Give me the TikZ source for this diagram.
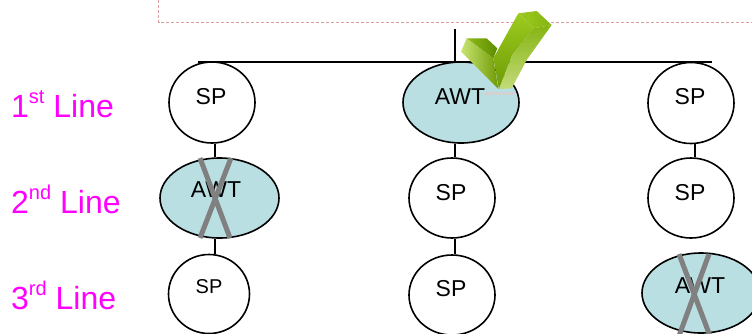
\documentclass[tikz,border=0pt]{standalone}
\usepackage{fontspec}
\setmainfont{Liberation Sans}
\usetikzlibrary{shapes.geometric}
\definecolor{awtfill}{HTML}{B9DFE3}
\definecolor{linemag}{HTML}{FF00FF}
\definecolor{crossgray}{HTML}{808080}
\definecolor{frameline}{HTML}{DE9CA3}
\definecolor{ckA}{HTML}{C9E572}
\definecolor{ckB}{HTML}{6E9A06}
\definecolor{ckC}{HTML}{8FBA1A}
\definecolor{ckD}{HTML}{5E8C00}
\definecolor{ckE}{HTML}{86B412}
\definecolor{ckF}{HTML}{C3DB7A}
\definecolor{ckG}{HTML}{9CCB1E}
\tikzset{
  spnode/.style={ellipse,draw=black,line width=1.6pt,fill=white,inner sep=0pt},
  awtnode/.style={spnode,fill=awtfill},
  wire/.style={draw=black,line width=1.6pt},
  crossbar/.style={draw=crossgray,line width=5pt},
  leveltext/.style={text=linemag,font=\fontsize{32}{34}\selectfont,anchor=base west,inner sep=0pt},
  celltext/.style={font=\fontsize{23}{25}\selectfont,text=black,inner sep=0pt,anchor=base}
}
\begin{document}
\begin{tikzpicture}[x=1pt,y=-1pt]
\useasboundingbox (0,0) rectangle (752,333);
\clip (0,0) rectangle (752,333);
\draw[frameline,line width=0.9pt,densely dashed] (158.5,-5) -- (158.5,22.5) -- (760,22.5);
\coordinate (busL) at (198,62);
\coordinate (busR) at (712,62);
\coordinate (busT) at (455,29);
\coordinate (busM) at (455,62);
\coordinate (colA) at (215,0);
\coordinate (colB) at (455,0);
\coordinate (colC) at (695,0);
\draw[wire] (busL) -- (busR);
\draw[wire] (busT) -- (busM);
\node[spnode,minimum width=86pt,minimum height=81pt] (a1) at (212,102.5) {};
\node[awtnode,minimum width=116pt,minimum height=81pt] (b1) at (461,102.5) {};
\node[spnode,minimum width=86pt,minimum height=81pt] (c1) at (691,103) {};
\node[awtnode,minimum width=119pt,minimum height=80pt] (a2) at (219.5,198) {};
\node[spnode,minimum width=86pt,minimum height=80pt] (b2) at (452,198) {};
\node[spnode,minimum width=86pt,minimum height=80pt] (c2) at (691,198) {};
\node[spnode,minimum width=81pt,minimum height=79pt] (a3) at (209,294) {};
\node[spnode,minimum width=86pt,minimum height=80pt] (b3) at (452,295) {};
\node[awtnode,minimum width=118pt,minimum height=80pt] (c3) at (701,293) {};
\draw[wire] (colA |- a1.south) -- (colA |- a2.north);
\draw[wire] (colA |- a2.south) -- (colA |- a3.north);
\draw[wire] (colB |- b1.south) -- (colB |- b2.north);
\draw[wire] (colB |- b2.south) -- (colB |- b3.north);
\draw[wire] (colC |- c1.south) -- (colC |- c2.north);
\node[celltext] at (211,104) {SP};
\node[celltext] at (460,104) {AWT};
\node[celltext] at (690,104) {SP};
\node[celltext] at (216,197) {AWT};
\node[celltext] at (451,200) {SP};
\node[celltext] at (690,200) {SP};
\node[celltext,font=\fontsize{20}{22}\selectfont] at (209,293) {SP};
\node[celltext] at (451,296) {SP};
\node[celltext] at (700,293) {AWT};
\draw[crossbar] (200,158) -- (230,238);
\draw[crossbar] (231,158) -- (200,238);
\draw[crossbar] (679,254) -- (710,336);
\draw[crossbar] (709,254) -- (679,336);
\node[leveltext] at (11,117) {1\raisebox{.42em}{\fontsize{20}{20}\selectfont st} Line};
\node[leveltext] at (11,213) {2\raisebox{.42em}{\fontsize{20}{20}\selectfont nd} Line};
\node[leveltext] at (11,309) {3\raisebox{.42em}{\fontsize{20}{20}\selectfont rd} Line};
\fill[gray!35] (483,92) rectangle (515,95);
\begin{scope}[xshift=455pt,yshift=-5pt,x=0.3333pt,y=-0.3333pt]
\shade[left color=ckC,right color=ckD] (35,100) -- (95,100) -- (127,130) -- (115,160) -- cycle;
\shade[left color=ckA,middle color=ckC,right color=ckB] (18,140) -- (35,100) -- (115,160) -- (130,252) -- cycle;
\shade[top color=ckG,bottom color=ckB] (115,160) -- (190,25) -- (235,70) -- (172,150) -- (132,252) -- cycle;
\shade[top color=ckE,bottom color=ckF] (235,70) -- (290,60) -- (215,165) -- (170,250) -- (132,252) -- (172,150) -- cycle;
\shade[left color=ckG,right color=ckE] (190,25) -- (245,18) -- (290,60) -- (235,70) -- cycle;
\end{scope}
\end{tikzpicture}
\end{document}
